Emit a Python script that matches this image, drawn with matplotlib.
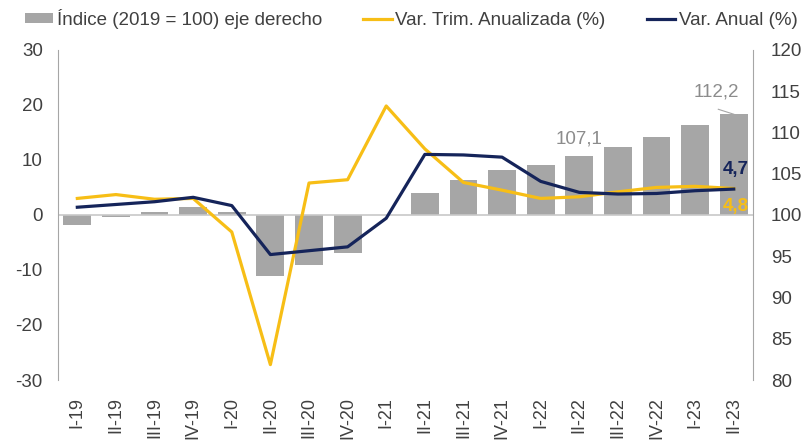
import matplotlib
matplotlib.use("Agg")
import matplotlib.pyplot as plt
import numpy as np
from matplotlib.patches import Patch
from matplotlib.lines import Line2D

plt.rcParams['font.family'] = ['Liberation Sans', 'DejaVu Sans']
plt.rcParams['axes.unicode_minus'] = False

# Data
trimestres = ['I-19', 'II-19', 'III-19', 'IV-19', 'I-20', 'II-20', 'III-20', 'IV-20',
              'I-21', 'II-21', 'III-21', 'IV-21', 'I-22', 'II-22', 'III-22', 'IV-22',
              'I-23', 'II-23']
indice = [98.8, 99.7, 100.3, 101.0, 100.3, 92.6, 93.9, 95.35, 100.0, 102.7,
          104.2, 105.4, 106.1, 107.1, 108.2, 109.5, 110.9, 112.2]
var_trim = [3.0, 3.7, 2.85, 3.0, -3.1, -27.2, 5.8, 6.4, 19.8, 12.0,
            5.9, 4.5, 3.0, 3.3, 4.2, 5.0, 5.2, 4.8]
var_anual = [1.4, 1.9, 2.4, 3.2, 1.7, -7.2, -6.5, -5.8, -0.6, 11.0,
             10.9, 10.5, 6.1, 4.1, 3.8, 3.9, 4.4, 4.7]

GRIS = '#A6A6A6'
AMARILLO = '#F7BE16'
AZUL = '#15245A'
TEXTO = '#404040'

fig = plt.figure(figsize=(8.08, 4.45), dpi=100)
ax1 = fig.add_axes([0.0718, 0.146, 0.8602, 0.742])
ax2 = ax1.twinx()

x = np.arange(len(trimestres))

# Bars on the right axis (base 100)
ax2.bar(x, np.array(indice) - 100, bottom=100, width=0.72, color=GRIS, zorder=2)
ax2.set_ylim(80, 120)
ax2.set_yticks(range(80, 121, 5))

# Lines on the left axis, drawn above the bars
ax1.set_zorder(ax2.get_zorder() + 1)
ax1.patch.set_visible(False)
ax1.axhline(0, color='#C8C8C8', lw=1.2, zorder=1)
ax1.plot(x, var_trim, color=AMARILLO, lw=2.3, zorder=3)
ax1.plot(x, var_anual, color=AZUL, lw=2.3, zorder=4)
ax1.set_ylim(-30, 30)
ax1.set_yticks(range(-30, 31, 10))
ax1.set_xlim(-0.5, len(trimestres) - 0.5)
ax1.set_xticks(x)
ax1.set_xticklabels(trimestres, rotation=90, va='top')

for ax in (ax1, ax2):
    for s in ('top', 'bottom'):
        ax.spines[s].set_visible(False)
    ax.spines['left'].set_color(GRIS)
    ax.spines['right'].set_color(GRIS)
    ax.tick_params(length=0, labelsize=13.5, colors=TEXTO)
ax2.spines['left'].set_visible(False)
ax1.spines['right'].set_visible(False)
ax1.tick_params(axis='y', pad=11)
ax1.tick_params(axis='x', pad=12, labelsize=13)
ax2.tick_params(axis='y', pad=13)

# Data labels
ax2.text(13, 107.1 + 1.1, '107,1', color='#8C8C8C', fontsize=13.5,
         ha='center', va='bottom')
ax2.text(16.55, 112.2 + 1.7, '112,2', color='#8C8C8C', fontsize=13.5,
         ha='center', va='bottom')
ax2.plot([16.6, 17.0], [112.8, 112.2], color='#A6A6A6', lw=0.8)
ax1.text(17.05, 8.2, '4,7', color=AZUL, fontsize=13.5, fontweight='bold',
         ha='center', va='center')
ax1.text(17.05, 1.6, '4,8', color=AMARILLO, fontsize=13.5, fontweight='bold',
         ha='center', va='center')

handles = [
    Patch(facecolor=GRIS, edgecolor='none', label='Índice (2019 = 100) eje derecho'),
    Line2D([0], [0], color=AMARILLO, lw=2.3, label='Var. Trim. Anualizada (%)'),
    Line2D([0], [0], color=AZUL, lw=2.3, label='Var. Anual (%)'),
]
fig.legend(handles=handles, loc='center', bbox_to_anchor=(0.509, 0.957), ncol=3,
           frameon=False, fontsize=13.5, handlelength=1.5, handleheight=0.45,
           handletextpad=0.2, columnspacing=2.2, labelcolor=TEXTO,
           borderaxespad=0)

fig.savefig('out.png', dpi=100)
